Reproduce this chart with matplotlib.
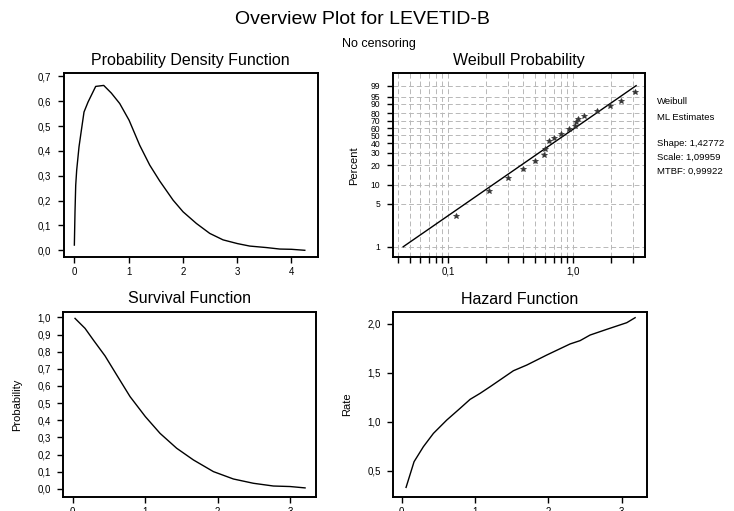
import numpy as np
import matplotlib
matplotlib.use("Agg")
import matplotlib.pyplot as plt
from matplotlib.ticker import FixedLocator, FixedFormatter, NullFormatter

plt.rcParams['font.family'] = ['Liberation Sans', 'DejaVu Sans']

# ---------------- data ----------------
# Probability density function
pdf_x = [0.0, 0.012, 0.025, 0.043, 0.086, 0.129, 0.178, 0.252, 0.393, 0.541,
         0.682, 0.836, 1.008, 1.204, 1.389, 1.573, 1.819, 2.003, 2.249, 2.495,
         2.740, 3.005, 3.232, 3.539, 3.785, 4.0, 4.246]
pdf_y = [0.021, 0.155, 0.262, 0.323, 0.417, 0.483, 0.557, 0.597, 0.660, 0.664,
         0.633, 0.591, 0.524, 0.423, 0.343, 0.279, 0.202, 0.155, 0.108, 0.068,
         0.042, 0.027, 0.017, 0.011, 0.005, 0.004, 0.0]

# Weibull probability plot (data points and fitted line)
wb_x = [0.116, 0.212, 0.300, 0.400, 0.501, 0.581, 0.594, 0.646, 0.702, 0.809,
        0.938, 1.033, 1.06, 1.107, 1.23, 1.57, 1.985, 2.44, 3.16]
wb_pct = [3.2, 7.9, 12.9, 17.5, 23.2, 27.7, 33.5, 43.2, 47.0, 52.2,
          58.2, 63.2, 68.0, 72.1, 76.9, 82.6, 88.0, 92.3, 97.2]
fit_x = [0.0438, 3.2]
fit_pct = [1.0, 99.0]

# Survival function
surv_x = [0.032, 0.170, 0.285, 0.447, 0.608, 0.792, 1.004, 1.206, 1.436, 1.667,
          1.943, 2.219, 2.495, 2.772, 3.002, 3.209]
surv_y = [0.994, 0.936, 0.868, 0.775, 0.664, 0.538, 0.421, 0.324, 0.237, 0.169,
          0.101, 0.058, 0.033, 0.017, 0.014, 0.006]

# Hazard function
haz_x = [0.059, 0.168, 0.295, 0.432, 0.614, 0.795, 0.932, 1.068, 1.205, 1.523,
         1.705, 1.977, 2.295, 2.432, 2.568, 2.795, 3.068, 3.182]
haz_y = [0.330, 0.592, 0.745, 0.881, 1.017, 1.136, 1.228, 1.289, 1.357, 1.520,
         1.578, 1.680, 1.793, 1.827, 1.884, 1.942, 2.010, 2.061]

# ticks
pdf_xticks = [0, 1, 2, 3, 4]
pdf_yticks = [0.0, 0.1, 0.2, 0.3, 0.4, 0.5, 0.6, 0.7]
wb_yticks = [1, 5, 10, 20, 30, 40, 50, 60, 70, 80, 90, 95, 99]
wb_xticks = [0.1, 1.0]
wb_xticklabels = ['0,1', '1,0']
wb_xminor = [0.04, 0.05, 0.06, 0.07, 0.08, 0.09, 0.2, 0.3, 0.4, 0.5, 0.6,
             0.7, 0.8, 0.9, 2.0, 3.0]
surv_xticks = [0, 1, 2, 3]
surv_yticks = [0.0, 0.1, 0.2, 0.3, 0.4, 0.5, 0.6, 0.7, 0.8, 0.9, 1.0]
haz_xticks = [0, 1, 2, 3]
haz_yticks = [0.5, 1.0, 1.5, 2.0]

legend_lines = ['Weibull', 'ML Estimates', 'Shape: 1,42772',
                'Scale: 1,09959', 'MTBF: 0,99922']


def comma(v, nd=1):
    return f"{v:.{nd}f}".replace('.', ',')


# ---------------- figure ----------------
fig = plt.figure(figsize=(7.34, 5.11), dpi=100)
W, H = 734.0, 511.0


def make_ax(l, t, r, b):
    return fig.add_axes([l / W, 1 - b / H, (r - l) / W, (b - t) / H])


TICK_FS = 7
TITLE_FS = 11.5


def style(ax):
    for s in ax.spines.values():
        s.set_linewidth(1.4)
    ax.tick_params(direction='out', length=4, width=1.0, labelsize=TICK_FS,
                   colors='black')
    ax.tick_params(axis='y', pad=5)
    ax.tick_params(axis='x', pad=3)
    ax.tick_params(which='minor', direction='out', length=3, width=0.8)


# PDF
ax1 = make_ax(63.5, 73.5, 317.5, 257)
ax1.plot(pdf_x, pdf_y, color='black', lw=1.0)
ax1.set_xlim(-0.2, 4.48)
ax1.set_ylim(-0.027, 0.712)
ax1.xaxis.set_major_locator(FixedLocator(pdf_xticks))
ax1.xaxis.set_major_formatter(FixedFormatter([str(v) for v in pdf_xticks]))
ax1.yaxis.set_major_locator(FixedLocator(pdf_yticks))
ax1.yaxis.set_major_formatter(FixedFormatter([comma(v) for v in pdf_yticks]))
ax1.set_title('Probability Density Function', fontsize=TITLE_FS, pad=6)
style(ax1)

# Weibull probability
def fwd(p):
    p = np.clip(np.asarray(p, dtype=float) / 100.0, 1e-12, 1 - 1e-12)
    return np.log(-np.log(1 - p))


def inv(z):
    return 100.0 * (1 - np.exp(-np.exp(np.asarray(z, dtype=float))))


ax2 = make_ax(393, 73.5, 645, 257)
ax2.set_xscale('log')
ax2.set_yscale('function', functions=(fwd, inv))
ax2.set_xlim(0.0363, 3.77)
ax2.set_ylim(float(inv(-4.99)), float(inv(1.99)))
ax2.xaxis.set_major_locator(FixedLocator(wb_xticks))
ax2.xaxis.set_major_formatter(FixedFormatter(wb_xticklabels))
ax2.xaxis.set_minor_locator(FixedLocator(wb_xminor))
ax2.xaxis.set_minor_formatter(NullFormatter())
ax2.yaxis.set_major_locator(FixedLocator(wb_yticks))
ax2.yaxis.set_major_formatter(FixedFormatter([str(v) for v in wb_yticks]))
ax2.yaxis.set_minor_locator(FixedLocator([]))
ax2.grid(True, which='both', color='#b8b8b8', lw=0.7, ls=(0, (5, 3)))
ax2.set_axisbelow(True)
ax2.plot(fit_x, fit_pct, color='black', lw=1.0, zorder=3)
ax2.plot(wb_x, wb_pct, ls='none', marker='*', ms=4, color='#333333',
         markeredgewidth=0.5, zorder=4)
ax2.set_title('Weibull Probability', fontsize=TITLE_FS, pad=6)
ax2.set_ylabel('Percent', fontsize=8)
ax2.yaxis.set_label_coords(-0.135, 0.5)
style(ax2)
ax2.tick_params(axis='y', labelsize=6.2)
ax2.tick_params(which='minor', length=4, width=1.0)

# legend text
leg_y = [102, 117, 143, 157, 171]
for txt, yy in zip(legend_lines, leg_y):
    fig.text(657 / W, 1 - yy / H, txt, fontsize=6.8, ha='left', va='center')

# Survival
ax3 = make_ax(63.3, 311.7, 316, 497)
ax3.plot(surv_x, surv_y, color='black', lw=1.0)
ax3.set_xlim(-0.13, 3.36)
ax3.set_ylim(-0.047, 1.033)
ax3.xaxis.set_major_locator(FixedLocator(surv_xticks))
ax3.xaxis.set_major_formatter(FixedFormatter([str(v) for v in surv_xticks]))
ax3.yaxis.set_major_locator(FixedLocator(surv_yticks))
ax3.yaxis.set_major_formatter(FixedFormatter([comma(v) for v in surv_yticks]))
ax3.set_title('Survival Function', fontsize=TITLE_FS, pad=6)
ax3.set_ylabel('Probability', fontsize=8)
ax3.yaxis.set_label_coords(-0.163, 0.5)
style(ax3)

# Hazard
ax4 = make_ax(393.3, 312.3, 646.7, 497)
ax4.plot(haz_x, haz_y, color='black', lw=1.0)
ax4.set_xlim(-0.115, 3.34)
ax4.set_ylim(0.232, 2.116)
ax4.xaxis.set_major_locator(FixedLocator(haz_xticks))
ax4.xaxis.set_major_formatter(FixedFormatter([str(v) for v in haz_xticks]))
ax4.yaxis.set_major_locator(FixedLocator(haz_yticks))
ax4.yaxis.set_major_formatter(FixedFormatter([comma(v) for v in haz_yticks]))
ax4.set_title('Hazard Function', fontsize=TITLE_FS, pad=6)
ax4.set_ylabel('Rate', fontsize=8)
ax4.yaxis.set_label_coords(-0.163, 0.5)
style(ax4)

# main titles
fig.text(362 / W, 1 - 20 / H, 'Overview Plot for LEVETID-B', fontsize=14,
         ha='center', va='center')
fig.text(379 / W, 1 - 44 / H, 'No censoring', fontsize=9,
         ha='center', va='center')

fig.savefig('out.png', dpi=100)
